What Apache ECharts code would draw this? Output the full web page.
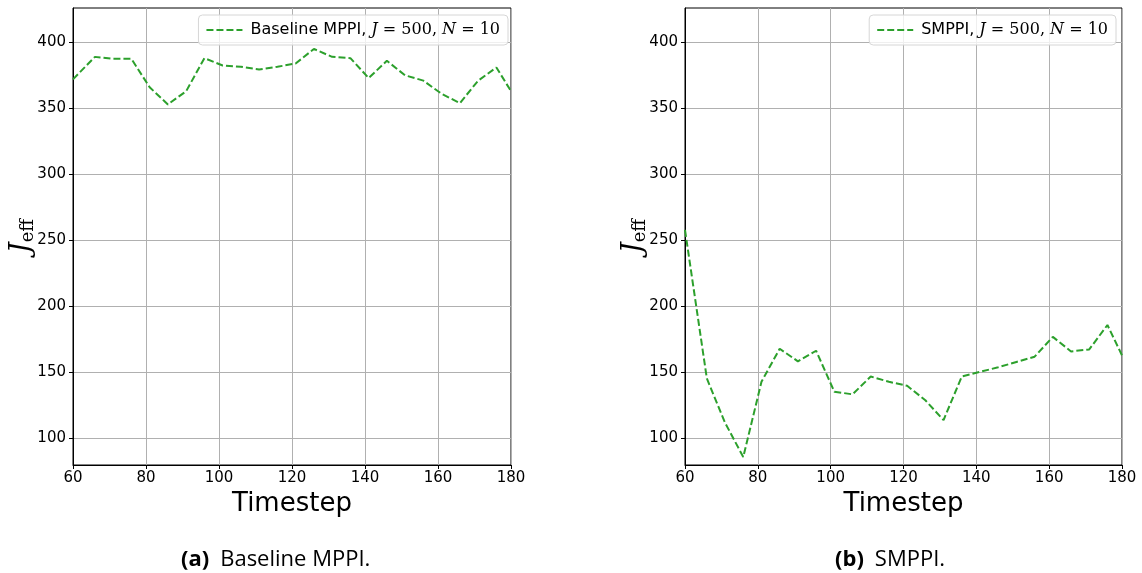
<!DOCTYPE html>
<html><head><meta charset="utf-8">
<script src="https://cdn.jsdelivr.net/npm/echarts@6/dist/echarts.min.js"></script>
<style>html,body{margin:0;padding:0;background:#fff}#c{width:1142px;height:573px}</style>
</head><body><div id="c"></div>
<script>
const timesteps = [60,66,71,76,81,86,91,96,101,106,111,116,121,126,131,136,141,146,151,156,161,166,171,176,180];
const baselineMPPI = [372,389,387.5,387.5,366,353,363,388,382.5,381.5,379.5,381.5,384,395,389,388,373,386,375,371,361,354,371,381,363];
const smppi = [258,145.5,112,86,143,168,158.5,166.5,135.5,133.5,147,143,140,129,114,147,150.5,154,158,162,177,166,167.5,186,163];
const yTicks = [100,150,200,250,300,350,400];
const xTicks = [60,80,100,120,140,160,180];
const seriesNames = ['Baseline MPPI, J = 500, N = 10','SMPPI, J = 500, N = 10'];
const legendLabels = ['Baseline MPPI, ','SMPPI, '];
const captions = [['(a)','Baseline MPPI.'],['(b)','SMPPI.']];

const green = '#2ca02c';
const tickFont = {fontFamily:'DejaVu Sans', fontSize:15, color:'#000'};
const grids = [
  {left:73, top:8, width:438, height:457, show:true, borderColor:'#000', borderWidth:1},
  {left:685, top:8, width:437, height:457, show:true, borderColor:'#000', borderWidth:1}
];
function xAxis(i){return {type:'value', gridIndex:i, min:60, max:180, interval:20,
  axisLine:{lineStyle:{color:'#000',width:1}}, axisTick:{length:4,lineStyle:{color:'#000'}},
  axisLabel:Object.assign({margin:6},tickFont),
  splitLine:{show:true,lineStyle:{color:'#b0b0b0',width:1}},
  name:'Timestep', nameLocation:'middle', nameGap:24,
  nameTextStyle:{fontFamily:'DejaVu Sans', fontSize:26, color:'#000'}};}
function yAxis(i){return {type:'value', gridIndex:i, min:80, max:426,
  axisLine:{show:true,lineStyle:{color:'#000',width:1}},
  axisTick:{show:true,length:4,lineStyle:{color:'#000'},customValues:yTicks},
  axisLabel:Object.assign({margin:7,customValues:yTicks},tickFont),
  splitLine:{show:true,lineStyle:{color:'#b0b0b0',width:1}}};}
function series(i,data){return {type:'line', name:seriesNames[i], xAxisIndex:i, yAxisIndex:i,
  data:timesteps.map((t,k)=>[t,data[k]]), symbol:'none', clip:true,
  lineStyle:{color:green,width:2,type:[7,3]}, itemStyle:{color:green}};}
function legend(i,right){return {data:[seriesNames[i]], right:right, top:15, orient:'horizontal',
  backgroundColor:'rgba(255,255,255,0.8)', borderColor:'#d6d6d6', borderWidth:1, borderRadius:4,
  padding:[7,8,7,7], itemWidth:36, itemHeight:14, itemGap:9,
  itemStyle:{opacity:0}, lineStyle:{color:green,width:2,type:[7,3]},
  formatter:()=>'{t|'+legendLabels[i]+'}{m|J}{r| = 500, }{m|N}{r| = 10}',
  textStyle:{padding:[0,0,0,3],rich:{t:{fontFamily:'DejaVu Sans',fontSize:16,color:'#000'},
    m:{fontFamily:'DejaVu Serif',fontStyle:'italic',fontSize:16,color:'#000'},
    r:{fontFamily:'DejaVu Serif',fontSize:16,color:'#000'}}}};}
const jeffRich = {j:{fontFamily:'DejaVu Serif',fontStyle:'italic',fontSize:27,lineHeight:30,verticalAlign:'middle',fill:'#000'},
  s:{fontFamily:'DejaVu Serif',fontSize:18,lineHeight:18,verticalAlign:'bottom',fill:'#000'}};
function ylab(x){return {type:'text', x:x, y:236, rotation:Math.PI/2,
  style:{text:'{j|J}{s|eff}', rich:jeffRich, align:'center', verticalAlign:'middle'}};}
const capFam = 'Open Sans';
const capRich = {b:{fontFamily:capFam,fontWeight:'bold',fontSize:22,fill:'#000'},
  n:{fontFamily:capFam,fontSize:22,fill:'#000',padding:[0,0,0,11]}};
function caption(x,c){return {type:'text', x:x, y:560, style:{text:'{b|'+c[0]+'}{n|'+c[1]+'}', rich:capRich, align:'left', verticalAlign:'middle', fontFamily:capFam}};}

const chart = echarts.init(document.getElementById('c'));
chart.setOption({
  animation:false,
  grid:grids,
  xAxis:[xAxis(0),xAxis(1)],
  yAxis:[yAxis(0),yAxis(1)],
  series:[series(0,baselineMPPI),series(1,smppi)],
  legend:[legend(0,634),legend(1,26)],
  graphic:[ylab(22),ylab(634),caption(181,captions[0]),caption(835,captions[1])]
});
</script></body></html>
